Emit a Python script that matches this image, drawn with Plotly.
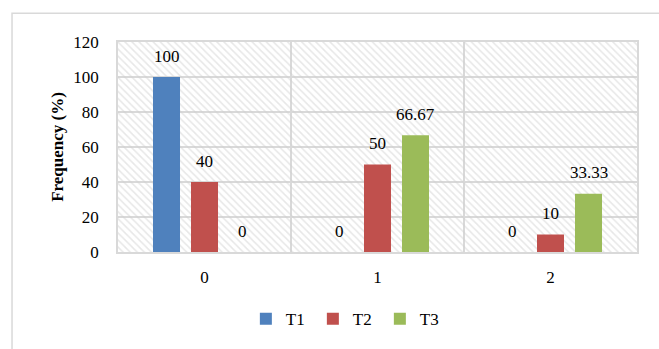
import plotly.graph_objects as go

categories = ["0", "1", "2"]
series_names = ["T1", "T2", "T3"]
t1 = [100, 0, 0]
t2 = [40, 50, 10]
t3 = [0, 66.67, 33.33]
colors = ["#4f81bd", "#c0504d", "#9bbb59"]
y_max = 120

FONT = "Liberation Serif, Times New Roman, serif"
GRID = "#d9d9d9"
FS = 17

fig = go.Figure()

# hatched plot-area background (on hidden linear axis underneath)
fig.add_trace(go.Bar(
    x=[0.5], y=[y_max], width=[1], xaxis="x", yaxis="y",
    marker=dict(color="rgba(0,0,0,0)", line=dict(width=0),
                pattern=dict(shape="\\", fgcolor="#cfcfcf", bgcolor="rgba(0,0,0,0)",
                             size=5, solidity=0.3)),
    showlegend=False, hoverinfo="skip",
))

all_series = [t1, t2, t3]
for name, vals, col in zip(series_names, all_series, colors):
    fig.add_trace(go.Bar(
        x=categories, y=vals, name=name, xaxis="x2", yaxis="y",
        marker=dict(color=col, line=dict(width=0)),
    ))

slot_px = 38
for i, vals in enumerate(all_series):
    for c, v in zip(categories, vals):
        fig.add_annotation(
            x=c, y=v, xref="x2", yref="y", text=f"{v:g}", showarrow=False,
            xshift=(i - 1) * slot_px, yshift=21, yanchor="middle",
            font=dict(family=FONT, size=FS, color="#000"),
        )

# outer chart border
fig.add_shape(type="rect", xref="paper", yref="paper",
              x0=-0.2042, x1=1.2, y0=-0.6, y1=1.1368,
              line=dict(color=GRID, width=1.5), fillcolor="rgba(0,0,0,0)", layer="below")

fig.update_layout(
    width=659, height=349,
    margin=dict(l=118, r=22, t=42, b=95),
    paper_bgcolor="white", plot_bgcolor="white",
    barmode="group", bargap=0.341, bargroupgap=0.289,
    font=dict(family=FONT, size=FS, color="#000"),
    xaxis=dict(type="linear", range=[0, 1], visible=False, fixedrange=True),
    xaxis2=dict(type="category", overlaying="x", anchor="y", side="bottom",
                showgrid=True, gridcolor=GRID, gridwidth=1.5, tickson="boundaries",
                ticks="", showline=True, linecolor=GRID, linewidth=1.5, mirror=True,
                ticklabelstandoff=9, tickfont=dict(family=FONT, size=FS, color="#000")),
    yaxis=dict(range=[0, y_max], dtick=20, showgrid=True, gridcolor=GRID, gridwidth=1.5,
               zeroline=False, showline=True, linecolor=GRID, linewidth=1.5, mirror=True,
               ticks="", ticklabelstandoff=14,
               tickfont=dict(family=FONT, size=FS, color="#000"),
               title=dict(text="<b>Frequency (%)</b>", standoff=5,
                          font=dict(family=FONT, size=17, color="#000"))),
    legend=dict(orientation="h", x=0.44, xanchor="center", y=-0.32, yanchor="middle",
                font=dict(family=FONT, size=FS, color="#000"), itemwidth=30,
                entrywidth=22, traceorder="normal"),
    showlegend=True,
)

fig.write_html("out.html")
